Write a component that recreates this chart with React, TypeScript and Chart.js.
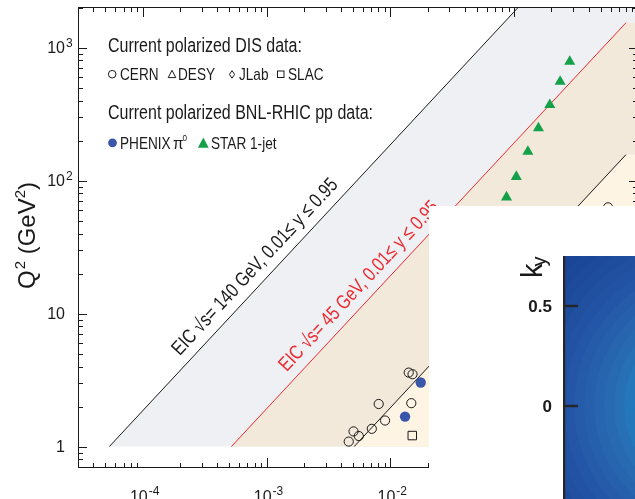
import React, { useEffect, useRef } from "react";
import { Chart, registerables } from "chart.js";

Chart.register(...registerables);

const FONT = '"Liberation Sans", Arial, Helvetica, sans-serif';

// ---------------- Main plot: axis ranges ----------------
const xRange = [3.0e-5, 1.0];
const q2Range = [0.69, 2020];
const xTickDecades = [-4, -3, -2, -1];
const yTickDecades = [0, 1, 2, 3];

// ---------------- EIC kinematic reach: Q^2 = x * y * s ----------------
const eicSqrtS = [140, 45];
const eicYMax = 0.95;
const eicYMin = 0.01;
const bandQ2Min = 1;
const bandXEnd = 0.8;
const eicLabels = [
  "EIC \u221As= 140 GeV, 0.01\u2264 y \u2264 0.95",
  "EIC \u221As= 45 GeV, 0.01\u2264 y \u2264 0.95",
];
const eicLabelX = [2.28e-4, 1.67e-3];

// ---------------- Current polarized data ----------------
const cernX = [0.01407, 0.0151, 0.00805, 0.01476, 0.00906, 0.00708, 0.00504, 0.00556, 0.00461, 0.573];
const cernQ2 = [3.6, 3.5, 2.09, 2.12, 1.57, 1.36, 1.3, 1.2, 1.09, 62.9];
const slacX = [0.01503];
const slacQ2 = [1.21];
const phenixX = [0.01758, 0.01314];
const phenixQ2 = [3.03, 1.68];
const starX = [0.281, 0.235, 0.194, 0.157, 0.129, 0.104, 0.0867];
const starQ2 = [785, 555, 371, 248, 165, 107, 75];

// ---------------- Inset (k_y map) ----------------
const kxRange = [-0.75, -0.395];
const kyRange = [-0.465, 0.75];
const kyTicks = [0.5, 0];
const kyTickLabels = ["0.5", "0"];
const contourRadius = [0.35, 0.4, 0.45, 0.5, 0.55, 0.6, 0.65, 0.7, 0.75, 0.8, 0.85, 0.9, 0.95, 1.0, 1.1];
const contourColor = [
  "#2387ca", "#1f7fc2", "#2477bb", "#2770b5", "#286ab2", "#2865af", "#2660ac", "#255ba9",
  "#2356a6", "#2252a3", "#2150a1", "#1f4d9e", "#1e4a9b", "#1c4899", "#1b4596",
];

type Piece = { t: string; size: number; dy?: number; dx?: number; weight?: string };

function drawPieces(ctx: CanvasRenderingContext2D, pieces: Piece[], x: number, y: number, sx = 1) {
  let cx = x;
  for (const p of pieces) {
    ctx.font = `${p.weight || "normal"} ${p.size}px ${FONT}`;
    cx += (p.dx || 0);
    const w = ctx.measureText(p.t).width * sx;
    ctx.save();
    ctx.translate(cx, y + (p.dy || 0));
    ctx.scale(sx, 1);
    ctx.fillText(p.t, 0, 0);
    ctx.restore();
    cx += w;
  }
  return cx - x;
}

function piecesWidth(ctx: CanvasRenderingContext2D, pieces: Piece[], sx = 1) {
  let w = 0;
  for (const p of pieces) {
    ctx.font = `${p.weight || "normal"} ${p.size}px ${FONT}`;
    w += ctx.measureText(p.t).width * sx + (p.dx || 0);
  }
  return w;
}

const mainPlugin = {
  id: "mainDecor",
  beforeDraw(chart: any) {
    const ctx = chart.ctx;
    ctx.save();
    ctx.fillStyle = "#ffffff";
    ctx.fillRect(0, 0, chart.width, chart.height);
    ctx.restore();
  },
  beforeDatasetsDraw(chart: any) {
    const { ctx, chartArea: a } = chart;
    const xs = chart.scales.x;
    const ys = chart.scales.y;
    const X = (v: number) => xs.getPixelForValue(v);
    const Y = (v: number) => ys.getPixelForValue(v);
    ctx.save();
    ctx.beginPath();
    ctx.rect(a.left, a.top, a.right - a.left, a.bottom - a.top);
    ctx.clip();
    const poly = (pts: number[][], color: string) => {
      ctx.beginPath();
      pts.forEach((p, i) => (i ? ctx.lineTo(X(p[0]), Y(p[1])) : ctx.moveTo(X(p[0]), Y(p[1]))));
      ctx.closePath();
      ctx.fillStyle = color;
      ctx.fill();
    };
    const s140 = eicSqrtS[0] * eicSqrtS[0];
    const s45 = eicSqrtS[1] * eicSqrtS[1];
    const xMax = xRange[1];
    // 140 GeV band
    const x0a = bandQ2Min / (eicYMax * s140);
    const qEa = eicYMax * s140 * bandXEnd;
    poly([[x0a, bandQ2Min], [bandXEnd, qEa], [xMax, qEa], [xMax, bandQ2Min]], "#eff0f3");
    // 45 GeV band
    const x0b = bandQ2Min / (eicYMax * s45);
    const qEb = eicYMax * s45 * bandXEnd;
    poly([[x0b, bandQ2Min], [bandXEnd, qEb], [xMax, qEb], [xMax, bandQ2Min]], "#f3e9db");
    // below 140 GeV y=0.01
    const x0c = bandQ2Min / (eicYMin * s140);
    const qEc = eicYMin * s140 * bandXEnd;
    poly([[x0c, bandQ2Min], [bandXEnd, qEc], [xMax, qEc], [xMax, bandQ2Min]], "#fdf4e4");
    const seg = (x0: number, q0: number, x1: number, q1: number, color: string) => {
      ctx.beginPath();
      ctx.moveTo(X(x0), Y(q0));
      ctx.lineTo(X(x1), Y(q1));
      ctx.strokeStyle = color;
      ctx.lineWidth = 1;
      ctx.stroke();
    };
    seg(x0a, bandQ2Min, bandXEnd, qEa, "#1a1a1a");
    seg(x0b, bandQ2Min, bandXEnd, qEb, "#ec2a30");
    seg(x0c, bandQ2Min, bandXEnd, qEc, "#1a1a1a");
    ctx.restore();

    // labels along lines
    const labelColors = ["#1a1a1a", "#ec2a30"];
    eicSqrtS.forEach((rs, i) => {
      const s = rs * rs;
      const xa = eicLabelX[i];
      const qa = eicYMax * s * xa;
      const p1 = [X(xa), Y(qa)];
      const p2 = [X(xa * 10), Y(qa * 10)];
      const ang = Math.atan2(p2[1] - p1[1], p2[0] - p1[0]);
      ctx.save();
      ctx.translate(p1[0], p1[1]);
      ctx.rotate(ang);
      ctx.translate(0, -10);
      ctx.scale(0.8, 1);
      ctx.fillStyle = labelColors[i];
      ctx.font = `20px ${FONT}`;
      ctx.textBaseline = "alphabetic";
      ctx.fillText(eicLabels[i], 0, 0);
      ctx.restore();
    });
  },
  afterDatasetsDraw(chart: any) {
    const { ctx, chartArea: a } = chart;
    const xs = chart.scales.x;
    const ys = chart.scales.y;
    const X = (v: number) => xs.getPixelForValue(v);
    const Y = (v: number) => ys.getPixelForValue(v);
    ctx.save();
    ctx.strokeStyle = "#1a1a1a";
    ctx.lineWidth = 1;
    // frame
    ctx.strokeRect(a.left + 0.5, a.top + 0.5, a.right - a.left - 1, a.bottom - a.top - 1);
    ctx.beginPath();
    // x ticks
    for (let d = -5; d <= 0; d++) {
      for (let m = 1; m <= 9; m++) {
        const v = m * Math.pow(10, d);
        if (v < xRange[0] * 0.999 || v > xRange[1] * 1.001) continue;
        const px = Math.round(X(v)) + 0.5;
        const len = m === 1 ? 10 : 5;
        ctx.moveTo(px, a.top);
        ctx.lineTo(px, a.top + len);
        if (!(m === 1 && d === -4)) {
          ctx.moveTo(px, a.bottom);
          ctx.lineTo(px, a.bottom - len);
        }
      }
    }
    // y ticks
    for (let d = -1; d <= 3; d++) {
      for (let m = 1; m <= 9; m++) {
        const v = m * Math.pow(10, d);
        if (v < q2Range[0] || v > q2Range[1]) continue;
        const py = Math.round(Y(v)) + 0.5;
        const len = m === 1 ? 9 : 5;
        ctx.moveTo(a.left, py);
        ctx.lineTo(a.left + len, py);
        ctx.moveTo(a.right, py);
        ctx.lineTo(a.right - len, py);
      }
    }
    ctx.stroke();

    ctx.fillStyle = "#1a1a1a";
    ctx.textBaseline = "alphabetic";
    // y tick labels
    yTickDecades.forEach((d) => {
      const py = Y(Math.pow(10, d));
      ctx.font = `16px ${FONT}`;
      ctx.textAlign = "right";
      ctx.fillText(d === 0 ? "1" : "10", 65, py + 5.8);
      if (d >= 2) {
        ctx.textAlign = "left";
        ctx.font = `12px ${FONT}`;
        ctx.fillText(String(d), 66, py - 1);
      }
    });
    // x tick labels
    xTickDecades.forEach((d) => {
      const px = X(Math.pow(10, d));
      ctx.font = `16px ${FONT}`;
      ctx.textAlign = "right";
      ctx.fillText("10", px + 5, 501.5);
      ctx.textAlign = "left";
      ctx.font = `12px ${FONT}`;
      ctx.fillText("-" + Math.abs(d), px + 6, 494.5);
    });
    ctx.textAlign = "left";

    // y-axis title
    const title: Piece[] = [
      { t: "Q", size: 24 },
      { t: "2", size: 15, dy: -10, dx: 1 },
      { t: " (GeV", size: 24 },
      { t: "2", size: 15, dy: -10 },
      { t: ")", size: 24 },
    ];
    const tw = piecesWidth(ctx, title);
    ctx.save();
    ctx.translate(35, 235.5);
    ctx.rotate(-Math.PI / 2);
    drawPieces(ctx, title, -tw / 2, 0);
    ctx.restore();

    // legend block
    const SX = 0.8;
    drawPieces(ctx, [{ t: "Current polarized DIS data:", size: 20 }], 108, 52, SX);
    ctx.beginPath();
    ctx.arc(112.2, 74.2, 3.8, 0, Math.PI * 2);
    ctx.stroke();
    drawPieces(ctx, [{ t: "CERN", size: 17 }], 120, 80, SX);
    ctx.beginPath();
    ctx.moveTo(172, 70.3);
    ctx.lineTo(168.2, 77.6);
    ctx.lineTo(175.8, 77.6);
    ctx.closePath();
    ctx.stroke();
    drawPieces(ctx, [{ t: "DESY", size: 17 }], 178, 80, SX);
    ctx.beginPath();
    ctx.moveTo(232, 70.6);
    ctx.lineTo(234.6, 74.4);
    ctx.lineTo(232, 78.2);
    ctx.lineTo(229.4, 74.4);
    ctx.closePath();
    ctx.stroke();
    drawPieces(ctx, [{ t: "JLab", size: 17 }], 239, 80, SX);
    ctx.strokeRect(277.5, 71, 6.5, 6.5);
    drawPieces(ctx, [{ t: "SLAC", size: 17 }], 288, 80, SX);

    drawPieces(ctx, [{ t: "Current polarized BNL-RHIC pp data:", size: 20 }], 108, 119, SX);
    ctx.fillStyle = "#3a56a8";
    ctx.beginPath();
    ctx.arc(112.5, 142.8, 4.4, 0, Math.PI * 2);
    ctx.fill();
    ctx.fillStyle = "#1a1a1a";
    drawPieces(ctx, [{ t: "PHENIX", size: 17 }], 120, 149, SX);
    drawPieces(ctx, [{ t: "\u03c0", size: 17 }], 173, 149, 0.9);
    drawPieces(ctx, [{ t: "0", size: 9 }], 182.5, 141, 0.9);
    ctx.fillStyle = "#15a04a";
    ctx.beginPath();
    ctx.moveTo(203.3, 137.5);
    ctx.lineTo(197.9, 147.8);
    ctx.lineTo(208.7, 147.8);
    ctx.closePath();
    ctx.fill();
    ctx.fillStyle = "#1a1a1a";
    drawPieces(ctx, [{ t: "STAR 1-jet", size: 17 }], 211, 149, SX);
    ctx.restore();
  },
};

const insetPlugin = {
  id: "insetDecor",
  beforeDraw(chart: any) {
    const ctx = chart.ctx;
    ctx.save();
    ctx.fillStyle = "#ffffff";
    ctx.fillRect(0, 0, chart.width, chart.height);
    ctx.restore();
  },
  beforeDatasetsDraw(chart: any) {
    const { ctx, chartArea: a } = chart;
    const xs = chart.scales.x;
    const ys = chart.scales.y;
    const cx = xs.getPixelForValue(0);
    const cy = ys.getPixelForValue(0);
    const Rk = contourRadius[contourRadius.length - 1];
    const R = Math.abs(xs.getPixelForValue(Rk) - cx);
    const g = ctx.createRadialGradient(cx, cy, 0, cx, cy, R);
    contourRadius.forEach((r, i) => {
      const start = i === 0 ? 0 : contourRadius[i - 1] / Rk;
      const end = r / Rk;
      g.addColorStop(start, contourColor[i]);
      g.addColorStop(Math.max(start, end - 0.004), contourColor[i]);
    });
    ctx.save();
    ctx.fillStyle = g;
    ctx.fillRect(a.left, a.top, a.right - a.left, a.bottom - a.top);
    ctx.restore();
  },
  afterDraw(chart: any) {
    const { ctx, chartArea: a } = chart;
    const ys = chart.scales.y;
    ctx.save();
    ctx.fillStyle = "#262626";
    ctx.fillRect(a.left - 1, a.top, 2.2, a.bottom - a.top);
    kyTicks.forEach((v, i) => {
      const py = ys.getPixelForValue(v);
      ctx.fillStyle = "#262626";
      ctx.fillRect(a.left, py - 1.2, 14, 2.4);
      ctx.fillStyle = "#1a1a1a";
      ctx.font = `bold 17px ${FONT}`;
      ctx.textAlign = "right";
      ctx.textBaseline = "alphabetic";
      ctx.fillText(kyTickLabels[i], 123, py + 6.2);
    });
    ctx.textAlign = "left";
    ctx.fillStyle = "#1a1a1a";
    ctx.translate(113, 72);
    ctx.rotate(-Math.PI / 2);
    drawPieces(ctx, [{ t: "k", size: 29 }, { t: "y", size: 20, dy: 4, dx: -3 }], 0, 0);
    ctx.restore();
  },
};

export default function App() {
  const mainRef = useRef<HTMLCanvasElement>(null);
  const insetRef = useRef<HTMLCanvasElement>(null);

  useEffect(() => {
    const pts = (xa: number[], ya: number[]) => xa.map((x, i) => ({ x, y: ya[i] }));
    const main = new Chart(mainRef.current as HTMLCanvasElement, {
      type: "scatter",
      data: {
        datasets: [
          {
            label: "CERN",
            data: pts(cernX, cernQ2),
            pointStyle: "circle",
            pointRadius: 4.6,
            backgroundColor: "rgba(0,0,0,0)",
            borderColor: "#1a1a1a",
            borderWidth: 1,
          },
          {
            label: "SLAC",
            data: pts(slacX, slacQ2),
            pointStyle: "rect",
            pointRadius: 6,
            backgroundColor: "rgba(0,0,0,0)",
            borderColor: "#1a1a1a",
            borderWidth: 1,
          },
          {
            label: "PHENIX",
            data: pts(phenixX, phenixQ2),
            pointStyle: "circle",
            pointRadius: 5.2,
            backgroundColor: "#3a56a8",
            borderColor: "#3a56a8",
            borderWidth: 0,
          },
          {
            label: "STAR 1-jet",
            data: pts(starX, starQ2),
            pointStyle: "triangle",
            pointRadius: 6.4,
            backgroundColor: "#15a04a",
            borderColor: "#15a04a",
            borderWidth: 0,
          },
        ],
      } as any,
      options: {
        responsive: false,
        animation: false,
        devicePixelRatio: 1,
        events: [],
        layout: { padding: { left: 78, top: 7, right: 5, bottom: 31 } },
        scales: {
          x: { type: "logarithmic", min: xRange[0], max: xRange[1], display: false },
          y: { type: "logarithmic", min: q2Range[0], max: q2Range[1], display: false },
        },
        plugins: { legend: { display: false }, tooltip: { enabled: false } },
      } as any,
      plugins: [mainPlugin],
    });

    const inset = new Chart(insetRef.current as HTMLCanvasElement, {
      type: "scatter",
      data: { datasets: [] },
      options: {
        responsive: false,
        animation: false,
        devicePixelRatio: 1,
        events: [],
        layout: { padding: { left: 135, top: 50, right: 0, bottom: 0 } },
        scales: {
          x: { type: "linear", min: kxRange[0], max: kxRange[1], display: false },
          y: { type: "linear", min: kyRange[0], max: kyRange[1], display: false },
        },
        plugins: { legend: { display: false }, tooltip: { enabled: false } },
      } as any,
      plugins: [insetPlugin],
    });

    return () => {
      main.destroy();
      inset.destroy();
    };
  }, []);

  return (
    <div
      style={{
        position: "fixed",
        left: 0,
        top: 0,
        width: 635,
        height: 499,
        overflow: "hidden",
        background: "#fff",
      }}
    >
      <canvas
        ref={mainRef}
        width={645}
        height={499}
        style={{ position: "absolute", left: 0, top: 0, width: 645, height: 499 }}
      />
      <canvas
        ref={insetRef}
        width={206}
        height={293}
        style={{ position: "absolute", left: 429, top: 206, width: 206, height: 293 }}
      />
    </div>
  );
}
